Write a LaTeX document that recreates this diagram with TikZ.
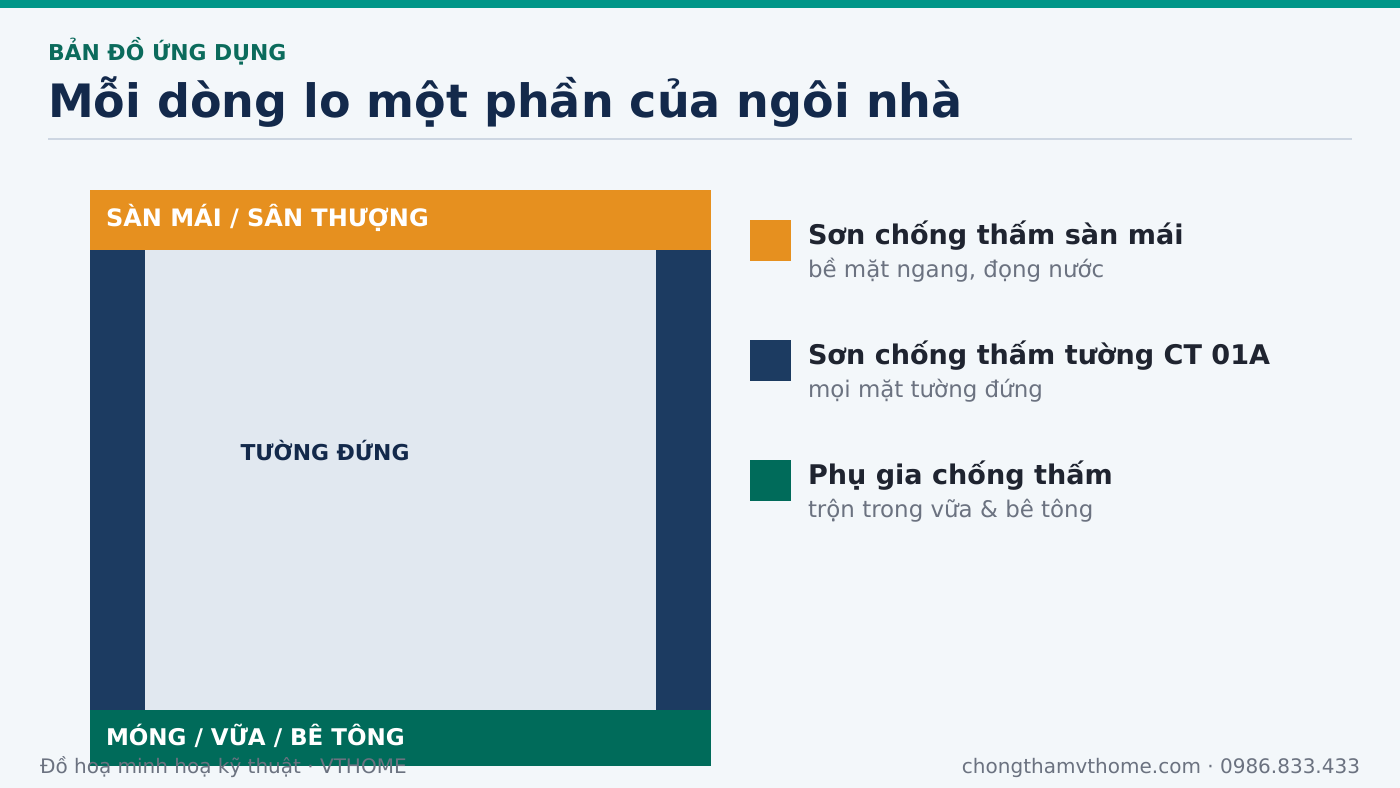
\documentclass[tikz,border=0pt]{standalone}
\usepackage{fontspec}
\setmainfont{DejaVu Sans}
\definecolor{bgc}{HTML}{F3F7FA}
\definecolor{topbarc}{HTML}{009688}
\definecolor{kickc}{HTML}{0B6B5C}
\definecolor{titlec}{HTML}{13294B}
\definecolor{rulec}{HTML}{CDD6E2}
\definecolor{orangec}{HTML}{E6901F}
\definecolor{navyc}{HTML}{1C3B61}
\definecolor{innerc}{HTML}{E1E8F0}
\definecolor{greenc}{HTML}{006B5A}
\definecolor{darkc}{HTML}{1F2430}
\definecolor{grayc}{HTML}{6B7280}
\begin{document}
\begin{tikzpicture}[x=0.75pt,y=-0.75pt,
  lbl/.style={inner sep=0pt, outer sep=0pt, anchor=base west},
  barlabel/.style={lbl, text=white, font=\bfseries\fontsize{17.6}{20}\selectfont},
  legtitle/.style={lbl, text=darkc, font=\bfseries\fontsize{20.3}{24}\selectfont},
  legsub/.style={lbl, text=grayc, font=\fontsize{17.2}{20}\selectfont},
  footer/.style={lbl, text=grayc, font=\fontsize{15}{18}\selectfont},
  swatch/.style={inner sep=0pt, outer sep=0pt, minimum width=30.75pt, minimum height=30.75pt, anchor=north west}]
\useasboundingbox (0,0) rectangle (1400,788);
\fill[bgc] (0,0) rectangle (1400,788);
\fill[topbarc] (0,0) rectangle (1400,8.5);
% header
\node[lbl, text=kickc, font=\bfseries\fontsize{16.4}{18}\selectfont] (kicker) at (48,61) {BẢN ĐỒ ỨNG DỤNG};
\node[lbl, text=titlec, font=\bfseries\fontsize{34.5}{40}\selectfont] (title) at (48,118) {Mỗi dòng lo một phần của ngôi nhà};
\draw[rulec, line width=1.5pt] (48,139) -- (1352,139);
% house diagram
\fill[innerc] (145,250) rectangle (656,710);
\fill[navyc] (90,250) rectangle (145,710);
\fill[navyc] (656,250) rectangle (711,710);
\fill[orangec] (90,190) rectangle (711,250);
\fill[greenc] (90,710) rectangle (711,766);
\node[barlabel, font=\bfseries\fontsize{18}{20}\selectfont] (roof) at (106,227) {SÀN MÁI / SÂN THƯỢNG};
\node[inner sep=0pt, anchor=base, text=titlec, font=\bfseries\fontsize{16.4}{19}\selectfont] (wall) at (325,460) {TƯỜNG ĐỨNG};
\node[barlabel, font=\bfseries\fontsize{17.25}{20}\selectfont] (base) at (106,745) {MÓNG / VỮA / BÊ TÔNG};
% legend
\node[swatch, fill=orangec] (sw1) at (750,220) {};
\node[swatch, fill=navyc] (sw2) at (750,340) {};
\node[swatch, fill=greenc] (sw3) at (750,460) {};
\node[legtitle] (t1) at (808,244) {Sơn chống thấm sàn mái};
\node[legsub] (s1) at (808,277) {bề mặt ngang, đọng nước};
\node[legtitle] (t2) at (808,364) {Sơn chống thấm tường CT 01A};
\node[legsub] (s2) at (808,397) {mọi mặt tường đứng};
\node[legtitle] (t3) at (808,484) {Phụ gia chống thấm};
\node[legsub] (s3) at (808,517) {trộn trong vữa \& bê tông};
% footer
\node[footer] (fl) at (40,773) {Đồ hoạ minh hoạ kỹ thuật · VTHOME};
\node[footer, anchor=base east] (fr) at (1360,773) {chongthamvthome.com · 0986.833.433};
\end{tikzpicture}
\end{document}
